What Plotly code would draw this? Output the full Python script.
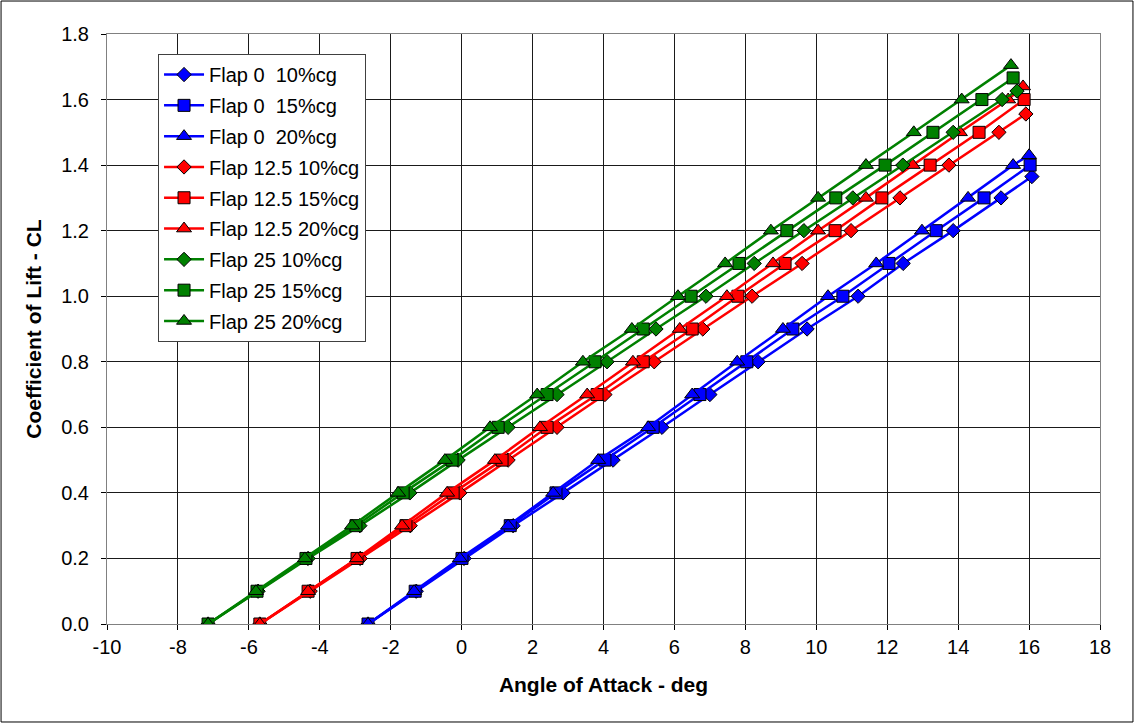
import plotly.graph_objects as go

# ---- data (angle of attack in deg, lift coefficient) ----
f0_10_aoa = [-2.64, -1.28, 0.07, 1.45, 2.86, 4.27, 5.65, 7.00, 8.36, 9.74, 11.18, 12.45, 13.86, 15.21, 16.08]
f0_10_cl = [0.0, 0.1, 0.2, 0.3, 0.4, 0.5, 0.6, 0.7, 0.8, 0.9, 1.0, 1.1, 1.2, 1.3, 1.365]

f0_15_aoa = [-2.64, -1.31, 0.01, 1.37, 2.66, 4.04, 5.40, 6.72, 8.04, 9.34, 10.75, 12.05, 13.38, 14.73, 16.03]
f0_15_cl = [0.0, 0.1, 0.2, 0.3, 0.4, 0.5, 0.6, 0.7, 0.8, 0.9, 1.0, 1.1, 1.2, 1.3, 1.4]

f0_20_aoa = [-2.64, -1.34, -0.05, 1.31, 2.58, 3.85, 5.26, 6.50, 7.77, 9.06, 10.33, 11.69, 12.98, 14.28, 15.55, 16.00]
f0_20_cl = [0.0, 0.1, 0.2, 0.3, 0.4, 0.5, 0.6, 0.7, 0.8, 0.9, 1.0, 1.1, 1.2, 1.3, 1.4, 1.43]

f12_10_aoa = [-5.69, -4.27, -2.86, -1.45, -0.05, 1.31, 2.69, 4.04, 5.43, 6.80, 8.19, 9.60, 10.98, 12.36, 13.74, 15.15, 15.91]
f12_10_cl = [0.0, 0.1, 0.2, 0.3, 0.4, 0.5, 0.6, 0.7, 0.8, 0.9, 1.0, 1.1, 1.2, 1.3, 1.4, 1.5, 1.556]

f12_15_aoa = [-5.69, -4.33, -2.95, -1.57, -0.24, 1.14, 2.41, 3.82, 5.12, 6.50, 7.79, 9.12, 10.53, 11.85, 13.21, 14.59, 15.86]
f12_15_cl = [0.0, 0.1, 0.2, 0.3, 0.4, 0.5, 0.6, 0.7, 0.8, 0.9, 1.0, 1.1, 1.2, 1.3, 1.4, 1.5, 1.6]

f12_20_aoa = [-5.69, -4.33, -2.95, -1.68, -0.41, 0.94, 2.21, 3.54, 4.83, 6.15, 7.48, 8.78, 10.05, 11.40, 12.72, 14.05, 15.41, 15.83]
f12_20_cl = [0.0, 0.1, 0.2, 0.3, 0.4, 0.5, 0.6, 0.7, 0.8, 0.9, 1.0, 1.1, 1.2, 1.3, 1.4, 1.5, 1.6, 1.64]

f25_10_aoa = [-7.15, -5.74, -4.33, -2.87, -1.46, -0.10, 1.31, 2.69, 4.10, 5.48, 6.89, 8.25, 9.65, 11.03, 12.44, 13.86, 15.24, 15.66]
f25_10_cl = [0.0, 0.1, 0.2, 0.3, 0.4, 0.5, 0.6, 0.7, 0.8, 0.9, 1.0, 1.1, 1.2, 1.3, 1.4, 1.5, 1.6, 1.626]

f25_15_aoa = [-7.15, -5.77, -4.39, -2.98, -1.65, -0.27, 1.03, 2.41, 3.76, 5.12, 6.47, 7.82, 9.17, 10.55, 11.94, 13.29, 14.67, 15.55]
f25_15_cl = [0.0, 0.1, 0.2, 0.3, 0.4, 0.5, 0.6, 0.7, 0.8, 0.9, 1.0, 1.1, 1.2, 1.3, 1.4, 1.5, 1.6, 1.666]

f25_20_aoa = [-7.15, -5.80, -4.42, -3.09, -1.79, -0.47, 0.80, 2.13, 3.42, 4.80, 6.10, 7.43, 8.72, 10.05, 11.40, 12.75, 14.10, 15.49]
f25_20_cl = [0.0, 0.1, 0.2, 0.3, 0.4, 0.5, 0.6, 0.7, 0.8, 0.9, 1.0, 1.1, 1.2, 1.3, 1.4, 1.5, 1.6, 1.705]

series_names = [
    "Flap 0\u00a0 10%cg", "Flap 0\u00a0 15%cg", "Flap 0\u00a0 20%cg",
    "Flap 12.5 10%cg", "Flap 12.5 15%cg", "Flap 12.5 20%cg",
    "Flap 25 10%cg", "Flap 25 15%cg", "Flap 25 20%cg",
]
series_x = [f0_10_aoa, f0_15_aoa, f0_20_aoa, f12_10_aoa, f12_15_aoa, f12_20_aoa, f25_10_aoa, f25_15_aoa, f25_20_aoa]
series_y = [f0_10_cl, f0_15_cl, f0_20_cl, f12_10_cl, f12_15_cl, f12_20_cl, f25_10_cl, f25_15_cl, f25_20_cl]

x_ticks = [-10, -8, -6, -4, -2, 0, 2, 4, 6, 8, 10, 12, 14, 16, 18]
y_ticks = [0.0, 0.2, 0.4, 0.6, 0.8, 1.0, 1.2, 1.4, 1.6, 1.8]

# ---- styles ----
colors = ["#0000FF"] * 3 + ["#FF0000"] * 3 + ["#008000"] * 3
symbols = ["diamond", "square", "triangle-up"] * 3
sizes = {"diamond": 11, "square": 12, "triangle-up": 13}

FONT = "Liberation Sans, Arial, sans-serif"

fig = go.Figure()
for i, name in enumerate(series_names):
    fig.add_trace(go.Scatter(
        x=series_x[i], y=series_y[i], name=name, mode="lines+markers",
        legendgroup=f"g{i}",
        line=dict(color=colors[i], width=2.5),
        marker=dict(symbol=symbols[i], size=sizes[symbols[i]], color=colors[i],
                    line=dict(color="#000000", width=1)),
    ))

# outer chart border
fig.add_shape(type="rect", xref="paper", yref="paper",
              x0=-0.1067, x1=1.0332, y0=-0.1661, y1=1.0559,
              line=dict(color="#000000", width=1), fillcolor="rgba(0,0,0,0)", layer="below")

fig.update_layout(
    width=1135, height=725,
    margin=dict(l=107, r=35, t=34, b=101),
    paper_bgcolor="white", plot_bgcolor="white",
    font=dict(family=FONT, color="#000000", size=19),
    showlegend=True,
    legend=dict(
        x=0.0514, y=0.966, xanchor="left", yanchor="top",
        bgcolor="white", bordercolor="#404040", borderwidth=1,
        font=dict(family=FONT, size=20, color="#000000"),
        tracegroupgap=1.8, itemwidth=40, traceorder="grouped",
    ),
    xaxis=dict(
        range=[-10, 18], tickvals=x_ticks, ticktext=[str(v) for v in x_ticks],
        showgrid=True, gridcolor="#1a1a1a", gridwidth=1,
        showline=True, linecolor="#808080", linewidth=1, mirror=True,
        ticks="outside", ticklen=5, tickcolor="#000000",
        tickfont=dict(family=FONT, size=20), zeroline=False,
        title=dict(text="<b>Angle of Attack - deg</b>", font=dict(family=FONT, size=21), standoff=20),
    ),
    yaxis=dict(
        range=[0, 1.8], tickvals=y_ticks, ticktext=[f"{v:.1f}" for v in y_ticks],
        showgrid=True, gridcolor="#1a1a1a", gridwidth=1,
        showline=True, linecolor="#808080", linewidth=1, mirror=True,
        ticks="outside", ticklen=5, tickcolor="#000000", ticklabelstandoff=8,
        tickfont=dict(family=FONT, size=20), zeroline=False,
        title=dict(text="<b>Coefficient of Lift - CL</b>", font=dict(family=FONT, size=21), standoff=13),
    ),
)

fig.write_html("out.html")
